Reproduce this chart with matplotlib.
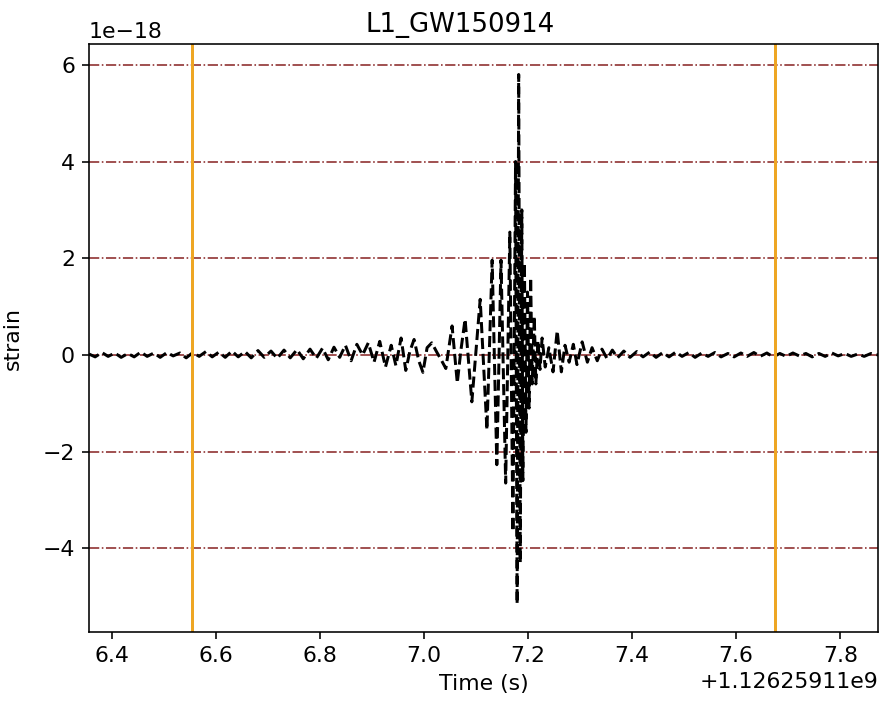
import numpy as np
import matplotlib
matplotlib.use("Agg")
import matplotlib.pyplot as plt

GPS_BASE = 1126259110.0

# turning points of the whitened L1 strain, time in s after GPS_BASE, strain in 1e-18
t_rel = [
    6.356, 6.368, 6.381, 6.393, 6.406, 6.418, 6.431, 6.443, 6.456, 6.468,
    6.481, 6.493, 6.506, 6.518, 6.531, 6.543, 6.556, 6.568, 6.581, 6.593,
    6.606, 6.618, 6.631, 6.643, 6.656, 6.668, 6.681, 6.693, 6.706, 6.718,
    6.731, 6.743, 6.756, 6.768, 6.781, 6.793,
    6.805, 6.816, 6.827, 6.838, 6.849, 6.860, 6.871, 6.882, 6.893, 6.904,
    6.915, 6.926, 6.937, 6.946,
    6.956, 6.965, 6.973, 6.981, 6.990, 6.998, 7.006, 7.015, 7.025, 7.033,
    7.042, 7.054, 7.064, 7.071, 7.079, 7.092, 7.108, 7.121, 7.131, 7.140,
    7.148, 7.157, 7.165, 7.171, 7.176, 7.179, 7.182, 7.185, 7.188, 7.190,
    7.193, 7.196, 7.199, 7.202, 7.205, 7.208, 7.212, 7.215, 7.219, 7.223,
    7.227, 7.233, 7.240, 7.248, 7.256, 7.264, 7.271, 7.279, 7.287, 7.294,
    7.304, 7.314, 7.323, 7.333, 7.342, 7.352, 7.362,
    7.372, 7.384, 7.396, 7.409, 7.421, 7.434, 7.446, 7.459, 7.471, 7.484,
    7.496, 7.509, 7.521, 7.534, 7.546, 7.559, 7.571, 7.584, 7.596, 7.609,
    7.621, 7.634, 7.646, 7.659, 7.671, 7.684, 7.696, 7.709, 7.721, 7.734,
    7.746, 7.759, 7.771, 7.784, 7.796, 7.809, 7.821, 7.834, 7.846, 7.859,
    7.873,
]
strain = [
    0.02, -0.04, 0.05, -0.03, 0.04, -0.05, 0.03, -0.04, 0.06, -0.03,
    0.04, -0.05, 0.05, -0.02, 0.04, -0.06, 0.05, -0.03, 0.07, -0.04,
    0.06, -0.05, 0.08, -0.04, 0.07, -0.06, 0.09, -0.05, 0.08, -0.07,
    0.10, -0.06, 0.11, -0.08, 0.12, -0.07,
    0.14, -0.10, 0.16, -0.05, 0.20, -0.12, 0.22, 0.00, 0.25, -0.15,
    0.28, -0.25, 0.20, -0.22,
    0.35, -0.32, 0.08, 0.32, -0.12, -0.36, 0.15, 0.25, 0.05, -0.10,
    -0.28, 0.60, -0.58, 0.10, 0.74, -0.97, 1.15, -1.55, 1.96, -2.27,
    1.96, -2.65, 2.54, -3.65, 4.00, -5.15, 5.80, -4.30, 3.00, -2.60,
    1.90, -1.60, 1.30, -1.10, 1.60, -0.60, 0.80, -0.60, 0.30, -0.30,
    0.35, -0.25, 0.15, -0.35, 0.50, -0.35, 0.20, -0.15, 0.22, -0.20,
    0.27, -0.15, 0.15, -0.12, 0.12, -0.08, 0.10,
    -0.06, 0.08, -0.05, 0.07, -0.04, 0.06, -0.05, 0.05, -0.04, 0.06,
    -0.03, 0.05, -0.05, 0.04, -0.03, 0.05, -0.04, 0.03, -0.04, 0.04,
    -0.03, 0.05, -0.03, 0.04, -0.04, 0.03, -0.03, 0.04, -0.02, 0.03,
    -0.04, 0.03, -0.03, 0.04, -0.02, 0.03, -0.03, 0.02, -0.03, 0.03,
    0.00,
]

# segment boundaries marked on the plot
seg_edges = [6.554, 7.675]
detector = "L1"
event = "GW150914"

plt.rcParams["font.size"] = 11

t = GPS_BASE + np.array(t_rel)
h = np.array(strain) * 1e-18

fig = plt.figure(figsize=(880 / 144, 702 / 144), dpi=144)
ax = fig.add_axes([0.101, 0.0997, 0.897, 0.8376])

ax.plot(t, h, color="black", linestyle="--", linewidth=1.5)
for edge in seg_edges:
    ax.axvline(GPS_BASE + edge, color="#eea623", linewidth=1.5)

ax.yaxis.grid(True, linestyle="-.", color="#8b2a2a", linewidth=0.8)
ax.set_axisbelow(True)

ax.set_xlim(GPS_BASE + 6.356, GPS_BASE + 7.873)
ax.set_ylim(-5.73e-18, 6.43e-18)
ax.set_xlabel("Time (s)")
ax.set_ylabel("strain", labelpad=10)
ax.set_title(detector + "_" + event, fontsize=13, x=0.47)

fig.savefig("out.png", dpi=144)
